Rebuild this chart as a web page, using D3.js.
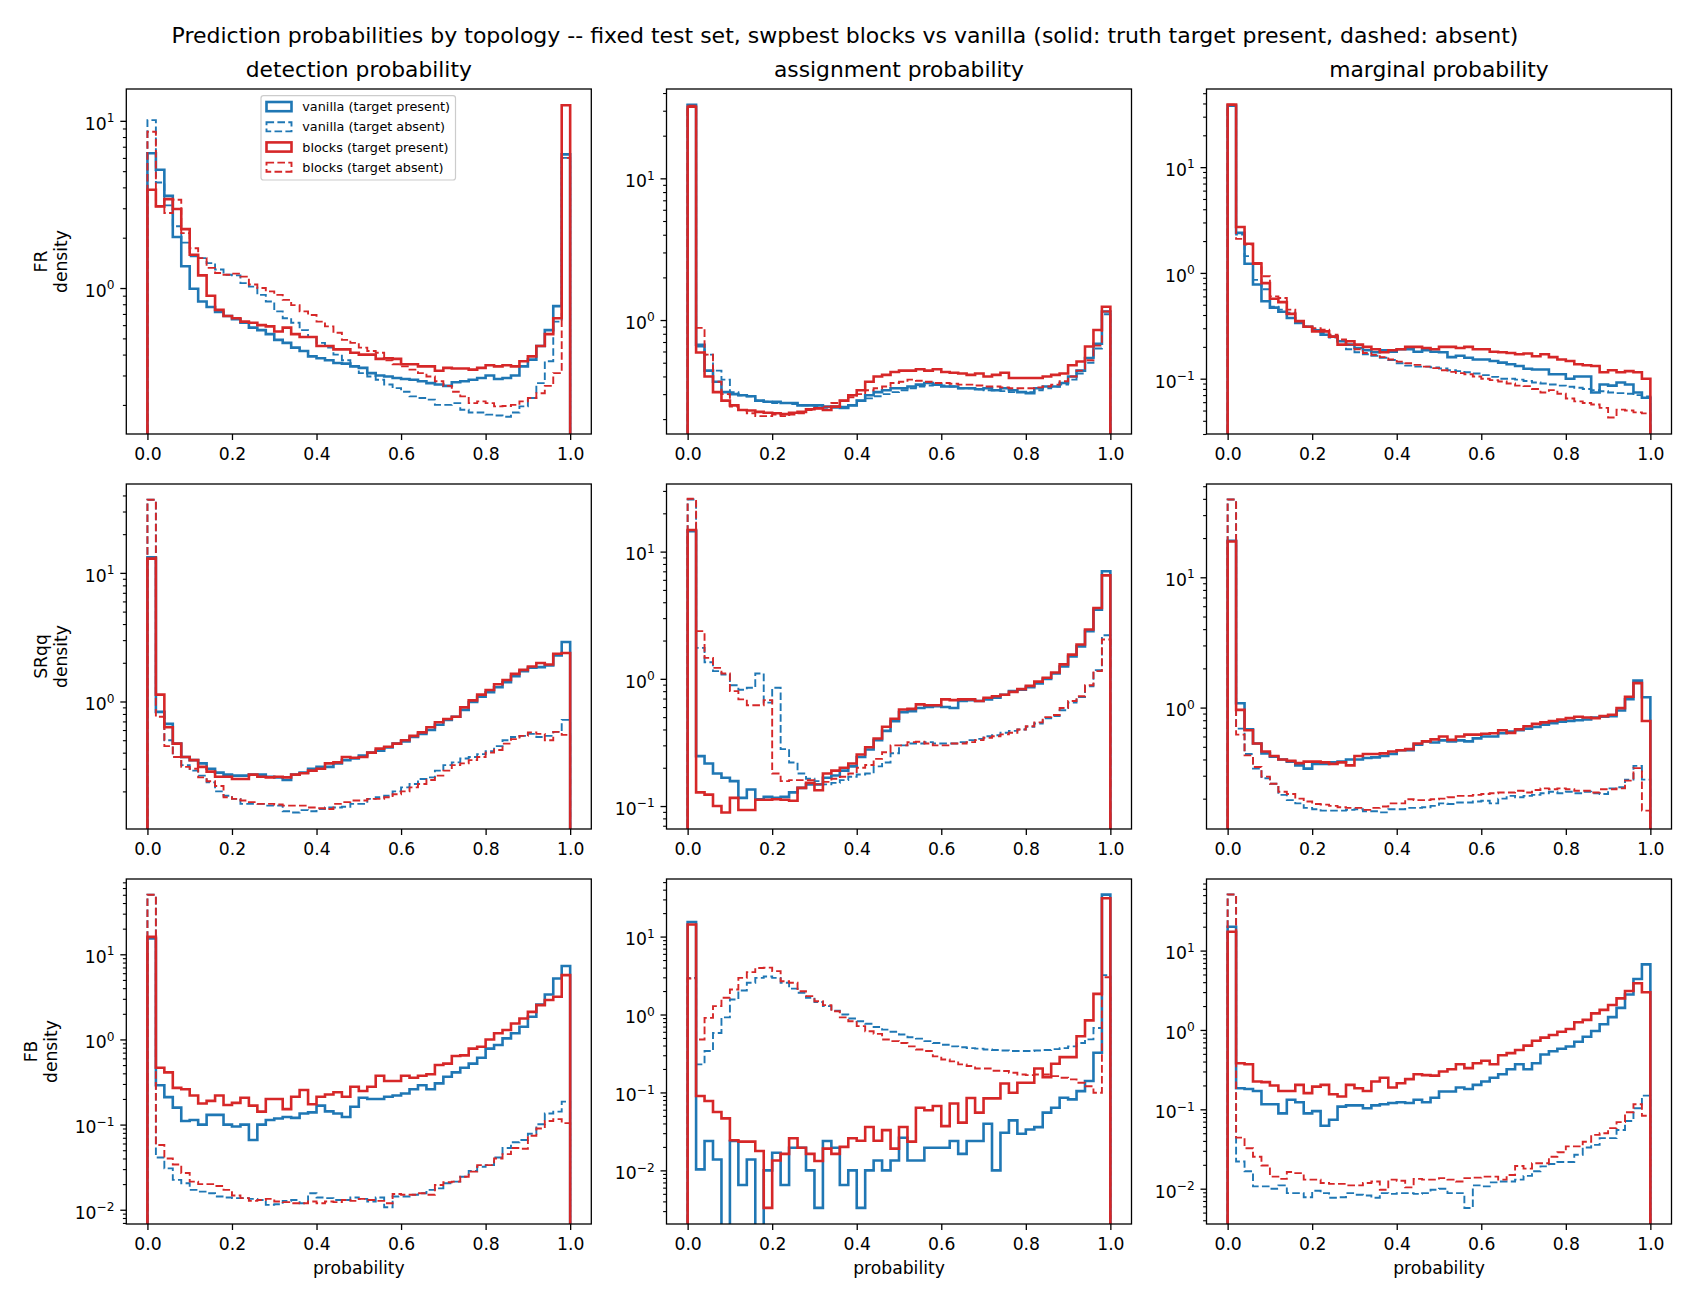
<!DOCTYPE html>
<html><head><meta charset="utf-8">
<script src="https://cdn.jsdelivr.net/npm/d3@7"></script>
<style>
body{margin:0;background:#fff}
svg{display:block}
text{font-family:"DejaVu Sans",sans-serif;fill:#000}
</style>
</head><body>
<svg id="chart" width="1690" height="1300"></svg>
<script>
// ---------------- data (density per bin, 50 bins on [0,1]) ----------------
const topologies = ["FR", "SRqq", "FB"];
const probKinds = ["detection probability", "assignment probability", "marginal probability"];
const seriesLabels = ["vanilla (target present)", "vanilla (target absent)", "blocks (target present)", "blocks (target absent)"];
const xTicks = [0, 0.2, 0.4, 0.6, 0.8, 1.0];
const nBins = 50;
const yLimits = [
  [0.134, 15.5], [0.157, 42.7], [0.030, 54.8],
  [0.102, 49.1], [0.066, 34.0], [0.117, 52.0],
  [0.0068, 76.6], [0.00205, 54.8], [0.00359, 79.8]
];

// FR detection
const frDetVanPres = [6.4,5.1,3.56,2.02,1.35,0.99,0.83,0.77,0.72,0.68, 0.65,0.62,0.58,0.56,0.53,0.49,0.47,0.44,0.42,0.39, 0.38,0.37,0.356,0.353,0.34,0.333,0.31,0.30,0.296,0.29, 0.286,0.283,0.277,0.27,0.265,0.26,0.273,0.277,0.283,0.29, 0.30,0.286,0.29,0.30,0.34,0.373,0.45,0.56,0.78,6.3];
const frDetVanAbs = [10.1,4.28,3.12,2.34,1.87,1.55,1.51,1.41,1.29,1.20, 1.19,1.07,1.02,0.91,0.83,0.725,0.66,0.62,0.56,0.51, 0.47,0.44,0.40,0.37,0.34,0.31,0.296,0.283,0.265,0.252, 0.24,0.225,0.22,0.215,0.20,0.20,0.205,0.187,0.18,0.18, 0.175,0.173,0.17,0.18,0.196,0.22,0.27,0.365,0.63,6.0];
const frDetBlkPres = [3.87,3.08,3.4,2.97,2.25,1.58,1.19,0.90,0.74,0.68, 0.66,0.63,0.62,0.60,0.59,0.55,0.58,0.53,0.51,0.51, 0.45,0.45,0.43,0.43,0.41,0.40,0.40,0.377,0.38,0.377, 0.35,0.35,0.34,0.34,0.32,0.333,0.33,0.33,0.325,0.333, 0.345,0.34,0.345,0.34,0.365,0.39,0.45,0.53,0.66,12.4];
const frDetBlkAbs = [8.6,3.08,2.81,3.37,2.13,1.73,1.51,1.32,1.23,1.20, 1.22,1.17,1.05,1.0,0.955,0.91,0.85,0.79,0.725,0.69, 0.63,0.59,0.54,0.49,0.47,0.44,0.42,0.41,0.37,0.35, 0.34,0.325,0.31,0.296,0.277,0.26,0.24,0.225,0.205,0.21, 0.205,0.196,0.197,0.20,0.21,0.22,0.235,0.26,0.31,6.0];

// FR assignment
const frAsgVanPres = [33,0.67,0.44,0.367,0.31,0.30,0.295,0.29,0.27,0.265, 0.265,0.26,0.26,0.25,0.25,0.25,0.245,0.245,0.24,0.25, 0.27,0.295,0.31,0.32,0.33,0.33,0.34,0.35,0.36,0.35, 0.34,0.34,0.33,0.33,0.325,0.33,0.32,0.33,0.32,0.31, 0.305,0.33,0.34,0.34,0.36,0.40,0.44,0.54,0.68,1.15];
const frAsgVanAbs = [33,0.65,0.57,0.44,0.38,0.31,0.295,0.29,0.27,0.265, 0.26,0.26,0.255,0.25,0.25,0.245,0.24,0.24,0.245,0.25, 0.27,0.28,0.29,0.30,0.31,0.32,0.33,0.34,0.345,0.35, 0.345,0.34,0.33,0.33,0.325,0.32,0.32,0.315,0.31,0.31, 0.31,0.32,0.33,0.34,0.35,0.38,0.42,0.50,0.63,1.1];
const frAsgBlkPres = [32,0.59,0.40,0.31,0.27,0.25,0.232,0.23,0.225,0.222, 0.22,0.217,0.222,0.225,0.235,0.238,0.232,0.245,0.27,0.295, 0.32,0.367,0.40,0.41,0.43,0.44,0.44,0.45,0.44,0.45, 0.43,0.425,0.42,0.41,0.42,0.40,0.41,0.425,0.39,0.39, 0.39,0.39,0.40,0.41,0.42,0.48,0.51,0.65,0.85,1.24];
const frAsgBlkAbs = [32.5,0.88,0.57,0.367,0.30,0.245,0.232,0.22,0.21,0.21, 0.215,0.21,0.215,0.22,0.232,0.238,0.245,0.26,0.27,0.285, 0.30,0.32,0.33,0.34,0.36,0.367,0.38,0.373,0.367,0.36, 0.36,0.355,0.35,0.35,0.345,0.34,0.34,0.335,0.33,0.33, 0.33,0.335,0.34,0.35,0.37,0.40,0.44,0.52,0.66,1.15];

// FR marginal
const frMarVanPres = [38,2.39,1.22,0.776,0.54,0.47,0.43,0.375,0.337,0.31, 0.287,0.26,0.25,0.226,0.21,0.195,0.186,0.178,0.186,0.18, 0.19,0.19,0.18,0.186,0.18,0.178,0.16,0.165,0.158,0.152, 0.152,0.147,0.142,0.137,0.132,0.124,0.122,0.122,0.11,0.11, 0.10,0.105,0.105,0.074,0.088,0.086,0.092,0.088,0.074,0.066];
const frMarVanAbs = [38,2.3,1.44,0.86,0.70,0.48,0.45,0.42,0.34,0.31, 0.29,0.27,0.245,0.23,0.19,0.178,0.17,0.165,0.158,0.15, 0.14,0.133,0.13,0.13,0.128,0.125,0.12,0.118,0.115,0.112, 0.108,0.104,0.10,0.10,0.098,0.095,0.092,0.09,0.088,0.086, 0.084,0.082,0.08,0.078,0.076,0.074,0.073,0.072,0.07,0.068];
const frMarBlkPres = [39,2.72,1.89,1.22,0.80,0.57,0.53,0.41,0.35,0.31, 0.28,0.28,0.25,0.21,0.226,0.21,0.20,0.19,0.178,0.186, 0.19,0.20,0.20,0.195,0.19,0.20,0.20,0.195,0.20,0.19, 0.19,0.18,0.178,0.175,0.17,0.173,0.163,0.17,0.16,0.152, 0.147,0.137,0.134,0.132,0.115,0.12,0.115,0.118,0.115,0.10];
const frMarBlkAbs = [39,2.1,1.85,1.24,0.93,0.60,0.58,0.45,0.35,0.31, 0.30,0.29,0.26,0.235,0.21,0.19,0.175,0.168,0.16,0.152, 0.145,0.14,0.135,0.13,0.126,0.12,0.116,0.113,0.11,0.105, 0.10,0.097,0.094,0.09,0.086,0.085,0.08,0.074,0.078,0.072, 0.065,0.061,0.059,0.057,0.053,0.043,0.051,0.05,0.048,0.047];

// SRqq detection
const srDetVanPres = [13.2,0.83,0.67,0.47,0.37,0.35,0.33,0.30,0.28,0.27, 0.265,0.265,0.27,0.27,0.26,0.257,0.245,0.27,0.28,0.30, 0.31,0.31,0.33,0.35,0.36,0.38,0.40,0.415,0.44,0.47, 0.49,0.53,0.56,0.60,0.66,0.72,0.76,0.86,0.99,1.09, 1.18,1.29,1.41,1.57,1.72,1.83,1.85,1.91,2.28,2.9];
const srDetVanAbs = [37,0.83,0.50,0.37,0.32,0.29,0.265,0.235,0.20,0.185, 0.175,0.16,0.16,0.16,0.155,0.155,0.14,0.137,0.143,0.14, 0.146,0.15,0.15,0.152,0.16,0.16,0.175,0.18,0.185,0.20, 0.215,0.228,0.25,0.257,0.29,0.32,0.336,0.36,0.37,0.39, 0.41,0.45,0.50,0.53,0.54,0.56,0.53,0.54,0.58,0.72];
const srDetBlkPres = [12.9,1.13,0.63,0.47,0.37,0.35,0.31,0.285,0.26,0.26, 0.25,0.25,0.27,0.26,0.257,0.26,0.257,0.27,0.277,0.29, 0.30,0.33,0.336,0.37,0.365,0.37,0.40,0.43,0.445,0.47, 0.50,0.54,0.575,0.63,0.69,0.73,0.76,0.90,1.02,1.13, 1.23,1.36,1.47,1.64,1.76,1.87,1.99,1.94,2.35,2.38];
const srDetBlkAbs = [37,0.76,0.45,0.37,0.31,0.30,0.257,0.24,0.22,0.18, 0.175,0.17,0.165,0.16,0.16,0.158,0.155,0.155,0.155,0.15, 0.148,0.146,0.16,0.165,0.17,0.17,0.175,0.175,0.18,0.19, 0.20,0.215,0.228,0.245,0.265,0.29,0.32,0.33,0.35,0.37, 0.40,0.42,0.47,0.51,0.54,0.575,0.56,0.50,0.58,0.55];

// SRqq assignment
const srAsgVanPres = [14.5,0.247,0.216,0.18,0.167,0.157,0.116,0.135,0.113,0.118, 0.116,0.118,0.128,0.139,0.148,0.148,0.167,0.174,0.19,0.205, 0.243,0.278,0.33,0.39,0.465,0.547,0.557,0.59,0.60,0.61, 0.60,0.59,0.67,0.68,0.67,0.69,0.71,0.75,0.80,0.82, 0.86,0.92,1.0,1.1,1.25,1.5,1.8,2.37,3.5,7.0];
const srAsgVanAbs = [25.7,1.75,1.35,1.15,1.08,0.89,0.82,0.85,1.10,0.65, 0.85,0.28,0.22,0.18,0.164,0.157,0.148,0.152,0.16,0.17, 0.177,0.18,0.205,0.22,0.26,0.30,0.31,0.31,0.318,0.31, 0.31,0.31,0.318,0.33,0.337,0.354,0.36,0.377,0.39,0.40, 0.42,0.445,0.49,0.51,0.567,0.65,0.72,0.875,1.17,2.2];
const srAsgBlkPres = [14.8,0.128,0.123,0.10,0.089,0.116,0.093,0.093,0.112,0.112, 0.113,0.112,0.11,0.139,0.152,0.133,0.18,0.19,0.20,0.216, 0.254,0.29,0.34,0.42,0.485,0.574,0.58,0.63,0.62,0.62, 0.69,0.68,0.69,0.69,0.67,0.71,0.73,0.75,0.79,0.83, 0.88,0.95,1.02,1.12,1.30,1.55,1.86,2.44,3.6,6.5];
const srAsgBlkAbs = [26,2.37,1.46,1.22,1.10,0.80,0.69,0.62,0.62,0.68, 0.18,0.157,0.16,0.16,0.16,0.148,0.155,0.164,0.17,0.18, 0.20,0.21,0.235,0.265,0.30,0.30,0.318,0.32,0.31,0.30, 0.30,0.31,0.31,0.318,0.33,0.344,0.354,0.366,0.377,0.40, 0.424,0.455,0.50,0.52,0.59,0.67,0.73,0.89,1.15,2.04];

// SRqq marginal
const srMarVanPres = [19.1,1.08,0.68,0.53,0.445,0.42,0.40,0.385,0.36,0.34, 0.37,0.37,0.38,0.385,0.40,0.40,0.41,0.415,0.425,0.44, 0.47,0.47,0.52,0.55,0.54,0.56,0.55,0.56,0.55,0.58, 0.60,0.60,0.635,0.655,0.67,0.69,0.71,0.74,0.76,0.78, 0.79,0.80,0.81,0.84,0.85,0.86,0.95,1.16,1.61,1.2];
const srMarVanAbs = [39.5,0.69,0.44,0.34,0.287,0.26,0.214,0.195,0.184,0.17, 0.166,0.162,0.162,0.162,0.164,0.166,0.16,0.16,0.157,0.166, 0.166,0.17,0.17,0.172,0.176,0.184,0.182,0.187,0.187,0.19, 0.193,0.184,0.20,0.21,0.205,0.21,0.214,0.22,0.226,0.22, 0.226,0.22,0.226,0.22,0.217,0.24,0.245,0.28,0.357,0.28];
const srMarBlkPres = [18.8,0.96,0.67,0.53,0.46,0.425,0.40,0.39,0.375,0.385, 0.385,0.38,0.37,0.38,0.36,0.425,0.44,0.44,0.445,0.46, 0.47,0.48,0.53,0.55,0.57,0.60,0.565,0.60,0.62,0.62, 0.63,0.635,0.67,0.64,0.68,0.72,0.75,0.77,0.79,0.81, 0.83,0.85,0.84,0.83,0.86,0.88,0.99,1.21,1.54,0.79];
const srMarBlkAbs = [39.5,0.62,0.43,0.35,0.295,0.26,0.226,0.217,0.20,0.19, 0.182,0.18,0.176,0.172,0.17,0.17,0.164,0.17,0.174,0.184, 0.184,0.198,0.195,0.195,0.198,0.20,0.205,0.21,0.21,0.214, 0.217,0.22,0.223,0.223,0.23,0.223,0.233,0.24,0.236,0.24, 0.236,0.23,0.23,0.223,0.236,0.236,0.24,0.275,0.343,0.162];

// FB detection
const fbDetVanPres = [15.3,0.29,0.21,0.158,0.11,0.113,0.10,0.13,0.13,0.10, 0.095,0.10,0.066,0.10,0.113,0.118,0.123,0.12,0.135,0.139, 0.167,0.143,0.135,0.123,0.162,0.207,0.2,0.2,0.212,0.22, 0.232,0.26,0.29,0.26,0.305,0.365,0.41,0.465,0.52,0.61, 0.78,0.86,1.03,1.18,1.41,1.85,2.57,3.37,5.2,7.3];
const fbDetVanAbs = [50,0.041,0.0306,0.0224,0.0205,0.0171,0.0163,0.0156,0.0143,0.0139, 0.0137,0.0137,0.0134,0.013,0.0114,0.0116,0.0127,0.013,0.0119,0.0156, 0.0139,0.0137,0.013,0.013,0.0139,0.0134,0.0125,0.0139,0.0107,0.0143, 0.0143,0.015,0.0156,0.0171,0.0178,0.0205,0.0214,0.0244,0.0286,0.032, 0.0334,0.041,0.053,0.062,0.066,0.078,0.101,0.135,0.142,0.186];
const fbDetBlkPres = [16,0.465,0.41,0.27,0.26,0.22,0.177,0.19,0.22,0.17, 0.18,0.207,0.167,0.142,0.2,0.2,0.152,0.212,0.255,0.173, 0.212,0.226,0.24,0.212,0.278,0.248,0.278,0.375,0.325,0.325, 0.375,0.355,0.375,0.39,0.5,0.52,0.64,0.65,0.78,0.82, 1.0,1.18,1.29,1.54,1.76,2.11,2.53,2.9,3.17,5.7];
const fbDetBlkAbs = [50,0.0575,0.04,0.034,0.027,0.0214,0.020,0.020,0.019,0.0171, 0.0147,0.0137,0.0127,0.013,0.0134,0.0125,0.0123,0.0119,0.0119,0.0125, 0.0119,0.0125,0.0123,0.013,0.0127,0.0134,0.013,0.0127,0.0119,0.0153, 0.015,0.015,0.0156,0.015,0.0195,0.021,0.0214,0.0244,0.028,0.0334, 0.0334,0.04,0.045,0.053,0.052,0.074,0.09,0.11,0.116,0.104];

// FB assignment (0 = empty bin)
const fbAsgVanPres = [15.4,0.0103,0.0238,0.0138,0,0.0238,0.0065,0.0138,0,0.010, 0.0168,0.0065,0.0195,0.0195,0.010,0.0033,0.0238,0.0195,0.0065,0.010, 0.0033,0.010,0.0134,0.010,0.0134,0.0262,0.0134,0.0134,0.0195,0.0195, 0.0195,0.0238,0.0163,0.0238,0.0238,0.0397,0.010,0.0304,0.0438,0.0295, 0.0334,0.0359,0.055,0.0636,0.0855,0.0815,0.104,0.14,0.323,34.5];
const fbAsgVanAbs = [2.95,0.229,0.34,0.58,0.92,1.56,2.03,2.55,2.95,3.07, 2.95,2.55,2.15,1.9,1.64,1.45,1.28,1.12,1.0,0.89, 0.82,0.76,0.69,0.64,0.6,0.555,0.51,0.49,0.455,0.43, 0.41,0.39,0.38,0.37,0.365,0.355,0.35,0.345,0.34,0.34, 0.34,0.345,0.35,0.36,0.37,0.39,0.43,0.48,0.67,3.2];
const fbAsgBlkPres = [14.3,0.09,0.0775,0.056,0.0465,0.0243,0.0234,0.0234,0.0177,0.0033, 0.0134,0.0163,0.0258,0.0195,0.0163,0.0132,0.019,0.0163,0.02,0.0258, 0.024,0.036,0.024,0.0328,0.019,0.036,0.0234,0.0637,0.059,0.067, 0.037,0.072,0.041,0.085,0.055,0.084,0.084,0.13,0.099,0.133, 0.133,0.203,0.157,0.233,0.284,0.284,0.527,0.84,1.84,31];
const fbAsgBlkAbs = [2.9,0.478,0.906,1.28,1.64,2.09,2.95,3.5,3.96,4.0, 3.6,2.67,2.55,1.99,1.72,1.48,1.32,1.1,0.92,0.82, 0.71,0.61,0.565,0.478,0.455,0.43,0.39,0.355,0.34,0.29, 0.265,0.25,0.229,0.218,0.203,0.203,0.19,0.188,0.179,0.17, 0.167,0.17,0.17,0.162,0.154,0.147,0.133,0.12,0.099,3.0];

// FB marginal
const fbMarVanPres = [20,0.184,0.18,0.17,0.116,0.116,0.089,0.132,0.123,0.089, 0.095,0.062,0.074,0.108,0.112,0.112,0.103,0.112,0.116,0.12, 0.123,0.12,0.132,0.123,0.14,0.168,0.168,0.188,0.18,0.203, 0.224,0.25,0.277,0.32,0.37,0.32,0.38,0.49,0.54,0.58, 0.62,0.71,0.82,0.97,1.18,1.45,1.9,2.8,4.38,6.7];
const fbMarVanAbs = [51,0.022,0.0166,0.0107,0.0107,0.01,0.011,0.0088,0.0088,0.0078, 0.0094,0.0088,0.0077,0.0078,0.0088,0.0084,0.0082,0.0077,0.0088,0.0086, 0.0088,0.0088,0.0086,0.0088,0.0097,0.01,0.0088,0.0088,0.0057,0.011, 0.0107,0.012,0.0123,0.0123,0.013,0.0145,0.0166,0.0191,0.0205,0.0217, 0.0217,0.0268,0.033,0.0356,0.0433,0.0433,0.055,0.0714,0.103,0.149];
const fbMarBlkPres = [17.3,0.38,0.37,0.224,0.22,0.2,0.17,0.17,0.203,0.16, 0.193,0.203,0.155,0.145,0.203,0.184,0.17,0.224,0.25,0.188, 0.213,0.24,0.277,0.27,0.266,0.3,0.32,0.37,0.33,0.38, 0.41,0.37,0.48,0.51,0.56,0.635,0.73,0.8,0.865,0.95, 1.03,1.25,1.34,1.62,1.79,2.06,2.5,3.1,3.87,2.98];
const fbMarBlkAbs = [51,0.044,0.0323,0.0253,0.0196,0.0142,0.0133,0.0162,0.0157,0.013, 0.013,0.0118,0.0115,0.0115,0.011,0.011,0.0118,0.0123,0.0097,0.013, 0.0126,0.0104,0.0133,0.013,0.013,0.0136,0.013,0.0123,0.0136,0.0138, 0.0142,0.0142,0.013,0.0149,0.0193,0.0179,0.0209,0.0209,0.0253,0.0288, 0.0341,0.0341,0.039,0.0476,0.05,0.058,0.069,0.092,0.116,0.083];

const panelSeries = [
  [[frDetVanPres, frDetVanAbs, frDetBlkPres, frDetBlkAbs],
   [frAsgVanPres, frAsgVanAbs, frAsgBlkPres, frAsgBlkAbs],
   [frMarVanPres, frMarVanAbs, frMarBlkPres, frMarBlkAbs]],
  [[srDetVanPres, srDetVanAbs, srDetBlkPres, srDetBlkAbs],
   [srAsgVanPres, srAsgVanAbs, srAsgBlkPres, srAsgBlkAbs],
   [srMarVanPres, srMarVanAbs, srMarBlkPres, srMarBlkAbs]],
  [[fbDetVanPres, fbDetVanAbs, fbDetBlkPres, fbDetBlkAbs],
   [fbAsgVanPres, fbAsgVanAbs, fbAsgBlkPres, fbAsgBlkAbs],
   [fbMarVanPres, fbMarVanAbs, fbMarBlkPres, fbMarBlkAbs]]
];

// ---------------- layout & style ----------------
const colLeft = [126.3, 666.5, 1206.5];
const rowTop = [89, 484, 879];
const axW = 465, axH = 345;
const BLUE = "#1f77b4", RED = "#d62728";
const seriesStyle = [
  {color: BLUE, dash: null, w: 2.6},
  {color: BLUE, dash: "7.6,3.3", w: 1.9},
  {color: RED, dash: null, w: 2.6},
  {color: RED, dash: "7.6,3.3", w: 1.9}
];
const tickFont = 17.2, titleFont = 21.8, supTitleFont = 22, legendFont = 12.8;
const yLabelX = [[46.5, 66.5], [46.5, 66.5], [36.5, 56.5]];

const svg = d3.select("#chart");
const defs = svg.append("defs");
const edges = d3.range(nBins + 1).map(i => i / nBins);

svg.append("text")
  .attr("x", 845).attr("y", 42.5)
  .attr("text-anchor", "middle").attr("font-size", supTitleFont)
  .text("Prediction probabilities by topology -- fixed test set, swpbest blocks vs vanilla (solid: truth target present, dashed: absent)");

function supExp(k) { return k < 0 ? "\u2212" + (-k) : String(k); }

topologies.forEach((topo, r) => {
  probKinds.forEach((kind, c) => {
    const left = colLeft[c], top = rowTop[r];
    const bottom = top + axH;
    const lim = yLimits[r * 3 + c];
    const x = d3.scaleLinear().domain([-0.05, 1.05]).range([left, left + axW]);
    const y = d3.scaleLog().domain(lim).range([bottom, top]);
    const g = svg.append("g");
    const clipId = "clip" + r + c;
    defs.append("clipPath").attr("id", clipId)
      .append("rect").attr("x", left).attr("y", top).attr("width", axW).attr("height", axH);

    // histograms
    const line = d3.line()
      .x(d => x(d[0]))
      .y(d => (d[1] > 0 ? y(d[1]) : bottom + 20));
    const lg = g.append("g").attr("clip-path", `url(#${clipId})`);
    panelSeries[r][c].forEach((vals, si) => {
      const pts = [[0, 0]];
      vals.forEach((v, i) => { pts.push([edges[i], v]); pts.push([edges[i + 1], v]); });
      pts.push([1, 0]);
      const st = seriesStyle[si];
      lg.append("path").attr("d", line(pts))
        .attr("fill", "none").attr("stroke", st.color)
        .attr("stroke-width", st.w)
        .attr("stroke-linejoin", "miter")
        .attr("stroke-dasharray", st.dash);
    });

    // x axis
    const xAxis = d3.axisBottom(x).tickValues(xTicks).tickFormat(d3.format(".1f"))
      .tickSize(6).tickSizeOuter(0);
    const xg = g.append("g").attr("transform", `translate(0,${bottom})`).call(xAxis);
    xg.select(".domain").remove();
    xg.selectAll(".tick line").attr("stroke", "#000").attr("stroke-width", 1.3);
    xg.selectAll(".tick text").attr("y", 26).attr("dy", null)
      .attr("font-size", tickFont).attr("font-family", "DejaVu Sans").attr("fill", "#000");

    // y axis: major decades and minor ticks
    const kMin = Math.ceil(Math.log10(lim[0]) - 1e-9), kMax = Math.floor(Math.log10(lim[1]) + 1e-9);
    const major = d3.range(kMin, kMax + 1).map(k => Math.pow(10, k));
    const minor = [];
    for (let k = Math.floor(Math.log10(lim[0])); k <= Math.ceil(Math.log10(lim[1])); k++) {
      for (let m = 2; m <= 9; m++) {
        const v = m * Math.pow(10, k);
        if (v >= lim[0] && v <= lim[1]) minor.push(v);
      }
    }
    const yMinor = d3.axisLeft(y).tickValues(minor).tickFormat("").tickSize(3.4).tickSizeOuter(0);
    const ymg = g.append("g").attr("transform", `translate(${left},0)`).call(yMinor);
    ymg.select(".domain").remove();
    ymg.selectAll(".tick line").attr("stroke", "#000").attr("stroke-width", 1.1);

    const yMajor = d3.axisLeft(y).tickValues(major).tickSize(6).tickSizeOuter(0);
    const yg = g.append("g").attr("transform", `translate(${left},0)`).call(yMajor);
    yg.select(".domain").remove();
    yg.selectAll(".tick line").attr("stroke", "#000").attr("stroke-width", 1.3);
    yg.selectAll(".tick text").each(function(d) {
      const t = d3.select(this);
      const k = Math.round(Math.log10(d));
      t.text(null).attr("x", -11.8).attr("y", 8.3).attr("dy", null)
        .attr("font-size", tickFont).attr("font-family", "DejaVu Sans").attr("fill", "#000");
      t.append("tspan").text("10");
      t.append("tspan").attr("dy", -7.6).attr("font-size", 12.2).text(supExp(k));
    });

    // frame
    g.append("rect").attr("x", left).attr("y", top).attr("width", axW).attr("height", axH)
      .attr("fill", "none").attr("stroke", "#000").attr("stroke-width", 1.3);

    // column titles
    if (r === 0) {
      g.append("text").attr("x", left + axW / 2).attr("y", 77)
        .attr("text-anchor", "middle").attr("font-size", titleFont).text(kind);
    }
    // x label
    if (r === 2) {
      g.append("text").attr("x", left + axW / 2).attr("y", 1274)
        .attr("text-anchor", "middle").attr("font-size", tickFont).text("probability");
    }
    // y label
    if (c === 0) {
      const cy = top + axH / 2;
      [topo, "density"].forEach((s, li) => {
        const bx = yLabelX[r][li];
        g.append("text").attr("transform", `translate(${bx},${cy}) rotate(-90)`)
          .attr("text-anchor", "middle").attr("font-size", tickFont).text(s);
      });
    }

    // legend
    if (r === 0 && c === 0) {
      const lgd = g.append("g");
      lgd.append("rect").attr("x", 261).attr("y", 95.7).attr("width", 194.5).attr("height", 84.3)
        .attr("rx", 2.5).attr("fill", "#fff").attr("fill-opacity", 0.8)
        .attr("stroke", "#cccccc").attr("stroke-width", 1.2);
      seriesLabels.forEach((lab, i) => {
        const cy = 106.6 + 20.2 * i;
        const st = seriesStyle[i];
        lgd.append("rect").attr("x", 266.5).attr("y", cy - 4.6).attr("width", 25).attr("height", 9.2)
          .attr("fill", "none").attr("stroke", st.color).attr("stroke-width", st.w)
          .attr("stroke-dasharray", st.dash);
        lgd.append("text").attr("x", 302.3).attr("y", cy + 4.6)
          .attr("font-size", legendFont).text(lab);
      });
    }
  });
});
</script>
</body></html>
